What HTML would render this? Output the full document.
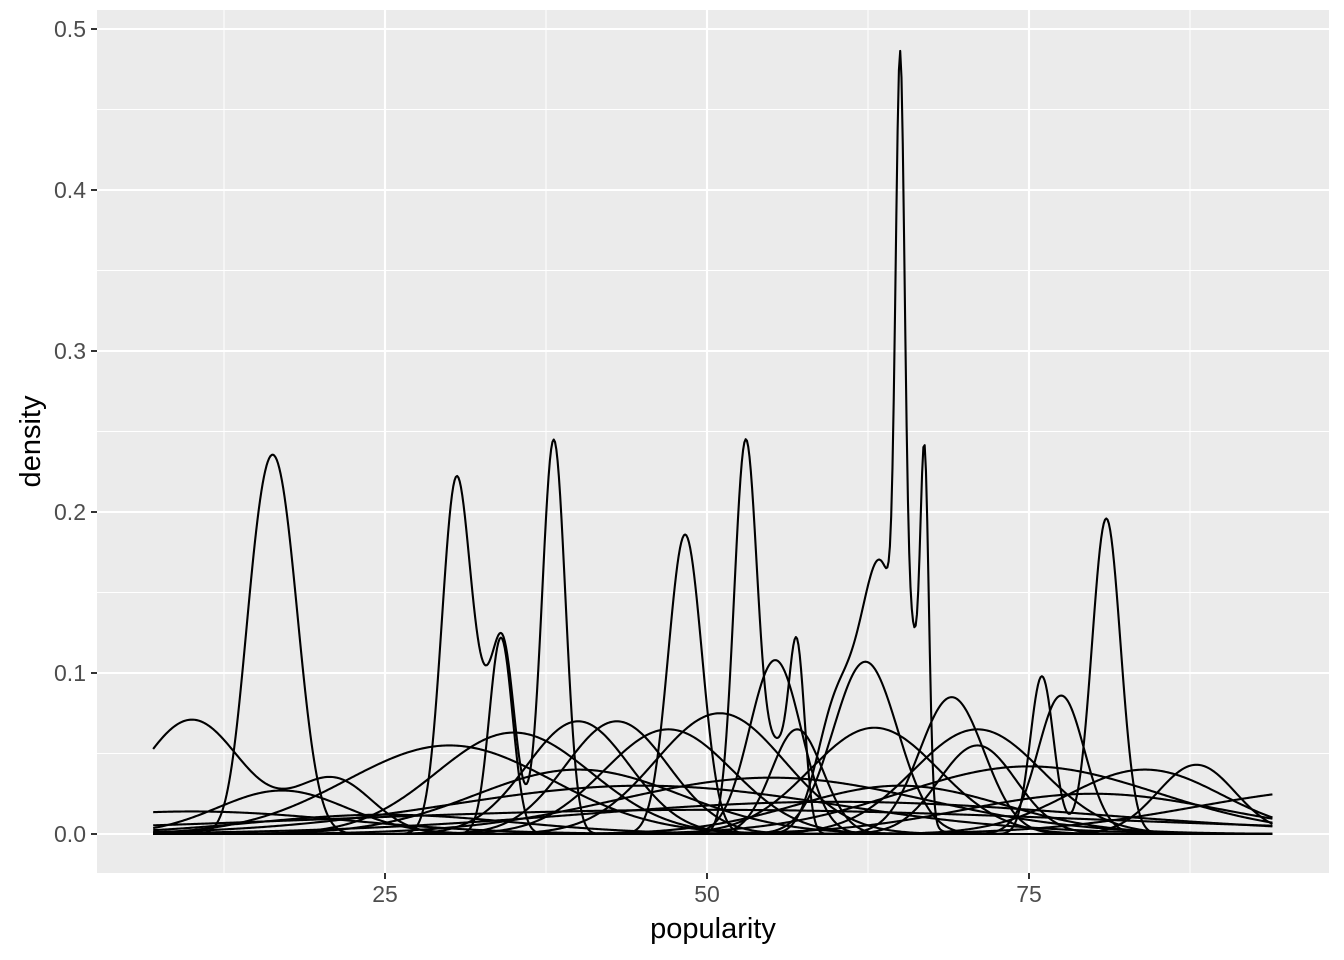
<!DOCTYPE html>
<html><head><meta charset="utf-8"><style>
body{margin:0;background:#fff;}
svg{display:block;font-family:"Liberation Sans",sans-serif;}
</style></head><body>
<svg id="chart" width="1344" height="960" viewBox="0 0 1344 960"></svg>
<script>
// Data: each curve is listed as [center, height, spread] components
const xTicks = [25, 50, 75];
const xMinor = [12.5, 37.5, 62.5, 87.5];
const yTicks = [0.0, 0.1, 0.2, 0.3, 0.4, 0.5];
const yTickLabels = ["0.0", "0.1", "0.2", "0.3", "0.4", "0.5"];
const xRange = [7.0, 93.9];
const curves = [
  [[10,0.071,3.9],[21,0.034,3]],
  [[16.7,0.21,1.6],[14.8,0.07,1.2]],
  [[30.5,0.215,1.1],[32.5,0.05,1],[34.2,0.11,0.9],[38.1,0.245,0.9]],
  [[34,0.122,0.9]],
  [[48.3,0.186,1.3]],
  [[53,0.243,0.9],[55.5,0.05,1.0],[57,0.105,0.6]],
  [[63.5,0.165,1.6],[60,0.075,1.5],[65,0.37,0.35],[66,0.072,0.5],[66.9,0.21,0.33]],
  [[76,0.098,0.9],[81,0.196,1.1]],
  [[77.5,0.086,1.8]],
  [[62.3,0.107,2.5]],
  [[55.3,0.108,2]],
  [[69,0.085,2.5]],
  [[35,0.063,6]],
  [[40,0.07,4]],
  [[43,0.07,4]],
  [[51,0.075,5]],
  [[47,0.065,5]],
  [[63,0.066,5]],
  [[71,0.065,5]],
  [[88,0.043,3]],
  [[84,0.04,6]],
  [[30,0.055,8]],
  [[17,0.027,5]],
  [[75,0.042,10]],
  [[45,0.03,15]],
  [[60,0.02,20]],
  [[50,0.015,30]],
  [[40,0.04,8]],
  [[57,0.065,2]],
  [[71,0.055,3]],
  [[100,0.028,12]],
  [[10,0.014,12]],
  [[55,0.035,12]],
  [[80,0.025,10]],
  [[25,0.012,10]],
  [[65,0.03,8]]
];

const NS = "http://www.w3.org/2000/svg";
const svg = document.getElementById("chart");
const P = {l:97, r:1329, t:10, b:873};
const xs = v => 385 + (v - 25) * (322 / 25);
const ys = v => 834 - v * 1610;
function mk(tag, attrs, parent){
  const e = document.createElementNS(NS, tag);
  for (const k in attrs) e.setAttribute(k, attrs[k]);
  (parent || svg).appendChild(e);
  return e;
}
const panel = mk("rect", {x:P.l, y:P.t, width:P.r-P.l, height:P.b-P.t, fill:"#ebebeb"});


const grid = mk("g", {});


xMinor.forEach(v => mk("line", {x1:xs(v), x2:xs(v), y1:P.t, y2:P.b, stroke:"#fff", "stroke-width":1}, grid));
for (let i = 0; i < yTicks.length - 1; i++) {
  const v = (yTicks[i] + yTicks[i+1]) / 2;
  mk("line", {x1:P.l, x2:P.r, y1:ys(v), y2:ys(v), stroke:"#fff", "stroke-width":1}, grid);
}
xTicks.forEach(v => mk("line", {x1:xs(v), x2:xs(v), y1:P.t, y2:P.b, stroke:"#fff", "stroke-width":2.1}, grid));
yTicks.forEach(v => mk("line", {x1:P.l, x2:P.r, y1:ys(v), y2:ys(v), stroke:"#fff", "stroke-width":2.1}, grid));

const lines = mk("g", {});


curves.forEach((comps, ci) => {
  let d = "";
  for (let x = xRange[0]; x <= xRange[1] + 1e-9; x += 0.1) {
    let y = 0;
    comps.forEach(c => { y += c[1] * Math.exp(-0.5 * Math.pow((x - c[0]) / c[2], 2)); });
    d += (d ? "L" : "M") + xs(x).toFixed(2) + "," + ys(y).toFixed(2);
  }
  const p = mk("path", {d:d, fill:"none", stroke:"#000", "stroke-width":2.1, "stroke-linejoin":"round"}, lines);
  
  
});

const axes = mk("g", {});


xTicks.forEach(v => {
  mk("line", {x1:xs(v), x2:xs(v), y1:P.b, y2:P.b+6, stroke:"#333", "stroke-width":2}, axes);
  const t = mk("text", {x:xs(v), y:P.b+29, "text-anchor":"middle", "font-size":23, fill:"#4d4d4d"}, axes);
  t.textContent = v;
  
  
});
yTicks.forEach((v, i) => {
  mk("line", {x1:P.l-6, x2:P.l, y1:ys(v), y2:ys(v), stroke:"#333", "stroke-width":2}, axes);
  const t = mk("text", {x:86, y:ys(v)+8, "text-anchor":"end", "font-size":23, fill:"#4d4d4d"}, axes);
  t.textContent = yTickLabels[i];
  
  
});
const xt = mk("text", {x:(P.l+P.r)/2, y:938, "text-anchor":"middle", "font-size":29, fill:"#000"});
xt.textContent = "popularity";


const yt = mk("text", {x:0, y:0, "text-anchor":"middle", "font-size":29, fill:"#000", transform:"translate(40,"+((P.t+P.b)/2)+") rotate(-90)"});
yt.textContent = "density";


</script>
</body></html>
